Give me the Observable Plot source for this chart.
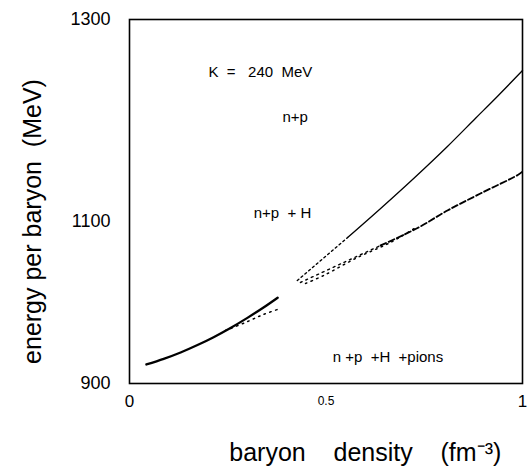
<!DOCTYPE html>
<html>
<head>
<meta charset="utf-8">
<script src="https://cdn.jsdelivr.net/npm/d3@7"></script>
<script src="https://cdn.jsdelivr.net/npm/@observablehq/plot@0.6"></script>
<style>
  html, body { margin: 0; padding: 0; background: #fff; }
  #chart svg { display: block; }
</style>
</head>
<body>
<div id="chart"></div>
<script>
// ---- data (baryon density in fm^-3, energy per baryon in MeV) ----
const npLowX  = [0.043, 0.087, 0.130, 0.173, 0.214, 0.257, 0.300, 0.341, 0.377];
const npLowY  = [923.5, 930.4, 938.3, 947.5, 957.2, 968.5, 981.0, 993.8, 1005.9];

const npHighX = [0.427, 0.555, 0.639, 0.723, 0.809, 0.880, 0.936, 1.000];
const npHighY = [1027.2, 1080.2, 1112.9, 1142.6, 1174.3, 1202.0, 1223.8, 1249.5];

const nphX = [0.435, 0.545, 0.639, 0.733, 0.809, 0.893, 0.990, 1.000];
const nphY = [1024.7, 1049.4, 1070.4, 1092.0, 1110.9, 1127.7, 1146.5, 1149.5];

const pionX = [0.244, 0.295, 0.341, 0.384, 0.410, 0.448, 0.494, 0.580, 0.664, 0.733];
const pionY = [965.4, 975.3, 985.2, 992.6, NaN, 1023.5, 1033.3, 1055.6, 1074.1, 1093.8];

const xTicks = [0, 0.5, 1];
const yTicks = [900, 1100, 1300];

const labelText = [
  "K\u00a0\u00a0=\u00a0\u00a0\u00a0240\u00a0\u00a0MeV",
  "n+p",
  "n+p\u00a0\u00a0+\u00a0H",
  "n\u00a0+p\u00a0\u00a0+H\u00a0\u00a0+pions"
];
const labelX = [0.201, 0.389, 0.316, 0.517];
const labelY = [1247.5, 1203, 1108, 933];

const xTitle = "baryon\u00a0\u00a0\u00a0\u00a0density\u00a0\u00a0\u00a0\u00a0(fm\u207B\u00B3)";
const yTitle = "energy per baryon\u00a0\u00a0(MeV)";

// ---- build tables ----
const toRows = (xs, ys) => xs.map((x, i) => ({x, y: ys[i]}));
const npLow = toRows(npLowX, npLowY);
const npHigh = toRows(npHighX, npHighY);
const nph = toRows(nphX, nphY);
const pion = toRows(pionX, pionY);
const labels = labelText.map((t, i) => ({t, x: labelX[i], y: labelY[i]}));

// The original energy axis is not evenly spaced (1100 sits lower than midway);
// reproduce it with a piecewise-linear transform of the y scale.
const yBreak = d3.scaleLinear().domain([900, 1100, 1300]).range([900, 900 + 162 * 400 / 364, 1300]);

const font = "'Liberation Sans', Arial, Helvetica, sans-serif";

const chart = Plot.plot({
  width: 529,
  height: 471,
  marginLeft: 129,
  marginRight: 7,
  marginTop: 19,
  marginBottom: 88,
  style: {fontFamily: font, fontSize: "15px", color: "#000", background: "#fff"},
  x: {domain: [0, 1], axis: null},
  y: {domain: [900, 1300], transform: v => yBreak(v), axis: null},
  marks: [
    Plot.frame({stroke: "#000", strokeWidth: 1.6}),
    // tick labels (through the scales)
    Plot.text(xTicks, {x: d => d, frameAnchor: "bottom", dy: 18, lineAnchor: "middle", text: d => String(d),
                       fontSize: d => (d === 0.5 ? 12 : 17), fill: "#000"}),
    Plot.text(yTicks, {y: d => d, frameAnchor: "left", dx: -19, textAnchor: "end", lineAnchor: "middle",
                       text: d => String(d), fontSize: 18, fill: "#000"}),
    // n+p low density (solid, thick)
    Plot.line(npLow, {x: "x", y: "y", stroke: "#000", strokeWidth: 2.3, curve: "catmull-rom"}),
    // n+p high density branch: dotted start, then solid
    Plot.line(npHigh, {x: "x", y: "y", filter: d => d.x <= 0.56, stroke: "#000", strokeWidth: 1.4, strokeDasharray: "2,3", curve: "catmull-rom"}),
    Plot.line(npHigh, {x: "x", y: "y", filter: d => d.x >= 0.555, stroke: "#000", strokeWidth: 1.3, curve: "catmull-rom"}),
    // n+p+H branch: dotted start, then dashed
    Plot.line(nph, {x: "x", y: "y", filter: d => d.x <= 0.64, stroke: "#000", strokeWidth: 1.4, strokeDasharray: "2,4", curve: "catmull-rom"}),
    Plot.line(nph, {x: "x", y: "y", filter: d => d.x >= 0.639, stroke: "#000", strokeWidth: 1.9, strokeDasharray: "6,3", curve: "catmull-rom"}),
    // n+p+H+pions (dotted)
    Plot.line(pion, {x: "x", y: "y", stroke: "#000", strokeWidth: 1.5, strokeDasharray: "1.5,4.5", curve: "catmull-rom"}),
    // annotations
    Plot.text(labels, {x: "x", y: "y", text: "t", textAnchor: "start", fontSize: 15, fill: "#000"}),
    // axis titles
    Plot.text([xTitle], {frameAnchor: "bottom", x: 0.6, text: d => d, textAnchor: "middle", dy: 77, fontSize: 25, fill: "#000"}),
    Plot.text([yTitle], {frameAnchor: "left", y: 1100, text: d => d, textAnchor: "middle", lineAnchor: "middle", dx: -97, rotate: -90, fontSize: 25, fill: "#000"})
  ]
});
document.getElementById("chart").appendChild(chart);
</script>
</body>
</html>
